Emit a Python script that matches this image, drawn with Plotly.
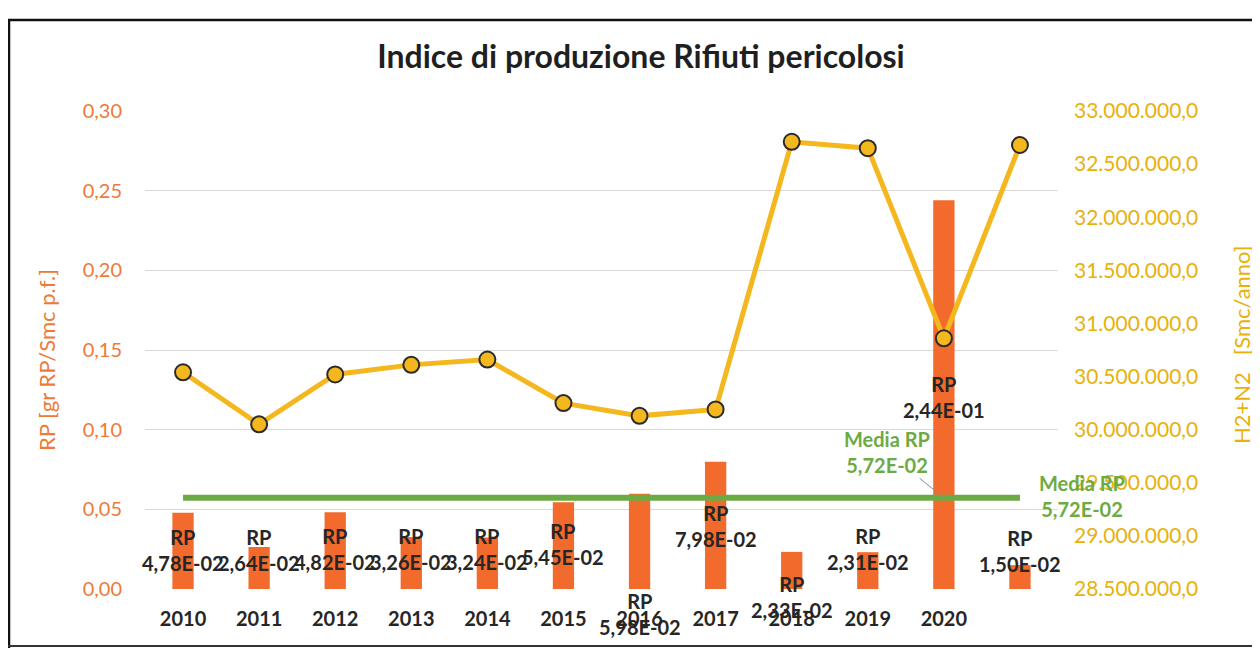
import plotly.graph_objects as go

# ---- data ----
categories = ["2010", "2011", "2012", "2013", "2014", "2015", "2016", "2017", "2018", "2019", "2020", ""]
rp_values = [0.0478, 0.0264, 0.0482, 0.0326, 0.0324, 0.0545, 0.0598, 0.0798, 0.0233, 0.0231, 0.244, 0.015]
h2n2_values = [30540000, 30050000, 30520000, 30610000, 30660000, 30250000, 30130000, 30190000,
               32710000, 32650000, 30860000, 32680000]
left_ticks = [0.0, 0.05, 0.10, 0.15, 0.20, 0.25, 0.30]
right_ticks = [28500000, 29000000, 29500000, 30000000, 30500000, 31000000, 31500000, 32000000, 32500000, 33000000]

# label pixel offsets (layout only)
label_xshift = [0, 0, 0, 0, 0, 0, 0, 0, 0, 0, 0, 0]
label_yshift = [-37, -3, -37, -12, -12, -42, -120, -64, -45, 3, -197, 14]

ORANGE = "#F26A2C"
ORANGE_TXT = "#EE7A3A"
GOLD = "#F4B71E"
GOLD_TXT = "#E8B10C"
GREEN = "#6CAB43"
DARK = "#262626"
FONT = "Lato"

# page body has an 8px margin: work in viewport pixels and convert
OFF = 8
W, H = 1260 - OFF, 648 - OFF
PL, PR, PT, PB = 145, 1058, 111, 589          # plot area in viewport pixels
L, R, T, B = PL - OFF, (W + OFF) - PR, PT - OFF, (H + OFF) - PB
PW, PH = PR - PL, PB - PT

idx = list(range(len(categories)))
mean_rp = sum(rp_values) / len(rp_values)


def fmt_e(v):
    return f"{v:.2E}".replace(".", ",")


def px_x(p):
    return (p - PL) / PW


def px_y(p):
    return (PB - p) / PH


fig = go.Figure()

fig.add_trace(go.Bar(
    x=idx, y=rp_values, marker=dict(color=ORANGE, line=dict(width=0)),
    name="RP", yaxis="y", showlegend=False, hoverinfo="skip"))

fig.add_trace(go.Scatter(
    x=idx, y=[mean_rp] * len(idx), mode="lines",
    line=dict(color=GREEN, width=6), name="Media RP", yaxis="y", showlegend=False))

fig.add_trace(go.Scatter(
    x=idx, y=h2n2_values, mode="lines+markers", yaxis="y2",
    line=dict(color=GOLD, width=5),
    marker=dict(size=16, color=GOLD, line=dict(color="#2B2B2B", width=2)),
    name="H2+N2", showlegend=False))

annotations = []
for i, v in enumerate(rp_values):
    annotations.append(dict(
        x=i, y=v, xref="x", yref="y", text="<b>RP<br>" + fmt_e(v) + "</b>",
        showarrow=False, xanchor="center", yanchor="middle",
        xshift=label_xshift[i], yshift=label_yshift[i],
        font=dict(family=FONT, size=20, color=DARK)))

mean_txt = "<b>Media RP<br>" + fmt_e(mean_rp) + "</b>"
annotations.append(dict(
    x=10, y=mean_rp, xref="x", yref="y", text=mean_txt,
    showarrow=True, arrowhead=0, arrowwidth=1, arrowcolor="#8C8C8C",
    ax=-57, ay=-46, font=dict(family=FONT, size=20, color=GREEN)))
annotations.append(dict(
    x=11, y=mean_rp, xref="x", yref="y", text=mean_txt,
    showarrow=False, xanchor="center", yanchor="middle", xshift=62, yshift=2,
    font=dict(family=FONT, size=20, color=GREEN)))

# axis titles
annotations.append(dict(
    x=px_x(46), y=px_y(360), xref="paper", yref="paper", xanchor="center", yanchor="middle",
    text="RP [gr RP/Smc p.f.]", textangle=-90, showarrow=False,
    font=dict(family=FONT, size=22, color=ORANGE_TXT)))
annotations.append(dict(
    x=px_x(1241), y=px_y(345), xref="paper", yref="paper", xanchor="center", yanchor="middle",
    text="H2+N2\u00a0\u00a0 [Smc/anno]", textangle=-90, showarrow=False,
    font=dict(family=FONT, size=22, color=GOLD_TXT)))

shapes = [
    dict(type="line", xref="paper", yref="paper", x0=px_x(9), x1=px_x(9), y0=px_y(20), y1=px_y(650),
         line=dict(color="#111111", width=2.5)),
    dict(type="line", xref="paper", yref="paper", x0=px_x(8), x1=px_x(1262), y0=px_y(20), y1=px_y(20),
         line=dict(color="#111111", width=2.5)),
    dict(type="line", xref="paper", yref="paper", x0=px_x(8), x1=px_x(1262), y0=px_y(646), y1=px_y(646),
         line=dict(color="#333333", width=2)),
]

fig.update_layout(
    width=W, height=H,
    margin=dict(l=L, r=R, t=T, b=B),
    paper_bgcolor="white", plot_bgcolor="white",
    separators=",.",
    bargap=0.72,
    title=dict(text="<b>Indice di produzione Rifiuti pericolosi</b>",
               x=(641 - OFF) / W, xanchor="center",
               y=1 - (57 - OFF) / H, yanchor="middle",
               font=dict(family=FONT, size=32, color="#1F1F1F")),
    xaxis=dict(
        tickmode="array", tickvals=idx, ticktext=categories,
        range=[-0.5, len(idx) - 0.5], showgrid=False, zeroline=False, showline=False,
        ticks="", ticklabelstandoff=16,
        tickfont=dict(family=FONT, size=20, color=DARK, weight="bold")),
    yaxis=dict(
        range=[0, 0.30], tickmode="array", tickvals=left_ticks, tickformat=".2f",
        showgrid=True, gridcolor="#D9D9D9", gridwidth=1, zeroline=False, showline=False,
        ticks="", ticklabelstandoff=22,
        tickfont=dict(family=FONT, size=20, color=ORANGE_TXT)),
    yaxis2=dict(
        range=[28500000, 33000000], overlaying="y", side="right",
        tickmode="array", tickvals=right_ticks, tickformat=",.1f",
        showgrid=False, zeroline=False, showline=False, ticks="", ticklabelstandoff=15,
        tickfont=dict(family=FONT, size=21, color=GOLD_TXT)),
    annotations=annotations,
    shapes=shapes,
)

fig.write_html("out.html")
